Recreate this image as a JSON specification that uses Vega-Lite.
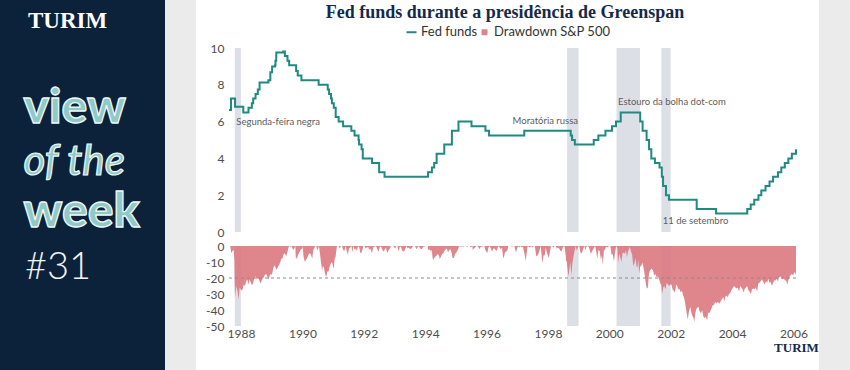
{
  "$schema": "https://vega.github.io/schema/vega-lite/v6.json",
  "padding": 0,
  "background": "#ffffff",
  "spacing": 0,
  "config": {
    "view": {"stroke": null},
    "font": "Lato",
    "concat": {"spacing": 0},
    "axis": {"labelFont": "Lato", "labelFontSize": 12, "labelColor": "#4d4d4d", "ticks": false, "domain": false, "grid": false, "labelOverlap": false}
  },
  "datasets": {
    "eventos": [
      {"evento": "Segunda-feira negra", "inicio": "1987-10-19", "fim": "1987-12-31", "nivel": 6.0},
      {"evento": "Moratória russa", "inicio": "1998-08-17", "fim": "1998-12-31", "nivel": 6.05},
      {"evento": "Estouro da bolha dot-com", "inicio": "2000-03-27", "fim": "2000-12-31", "nivel": 7.05},
      {"evento": "11 de setembro", "inicio": "2001-09-11", "fim": "2001-12-31", "nivel": 0.6}
    ],
    "fed": [
      {"dia": "1987-08-11", "taxa": 6.625}, {"dia": "1987-09-04", "taxa": 7.25}, {"dia": "1987-10-22", "taxa": 6.8125},
      {"dia": "1988-01-28", "taxa": 6.5}, {"dia": "1988-03-30", "taxa": 6.75}, {"dia": "1988-05-09", "taxa": 7.0},
      {"dia": "1988-05-25", "taxa": 7.25}, {"dia": "1988-06-22", "taxa": 7.5}, {"dia": "1988-07-19", "taxa": 7.75},
      {"dia": "1988-08-09", "taxa": 8.125}, {"dia": "1988-11-22", "taxa": 8.25}, {"dia": "1988-12-15", "taxa": 8.6875},
      {"dia": "1989-01-05", "taxa": 9.0}, {"dia": "1989-02-09", "taxa": 9.0625}, {"dia": "1989-02-14", "taxa": 9.3125},
      {"dia": "1989-02-23", "taxa": 9.5625}, {"dia": "1989-02-24", "taxa": 9.75}, {"dia": "1989-05-17", "taxa": 9.8125},
      {"dia": "1989-06-06", "taxa": 9.5625}, {"dia": "1989-07-07", "taxa": 9.3125}, {"dia": "1989-07-27", "taxa": 9.0625},
      {"dia": "1989-10-18", "taxa": 8.75}, {"dia": "1989-11-06", "taxa": 8.5}, {"dia": "1989-12-20", "taxa": 8.25},
      {"dia": "1990-07-13", "taxa": 8.0}, {"dia": "1990-10-29", "taxa": 7.75}, {"dia": "1990-11-14", "taxa": 7.5},
      {"dia": "1990-12-07", "taxa": 7.25}, {"dia": "1990-12-18", "taxa": 7.0}, {"dia": "1991-01-09", "taxa": 6.75},
      {"dia": "1991-02-01", "taxa": 6.25}, {"dia": "1991-03-08", "taxa": 6.0}, {"dia": "1991-04-30", "taxa": 5.75},
      {"dia": "1991-08-06", "taxa": 5.5}, {"dia": "1991-09-13", "taxa": 5.25}, {"dia": "1991-10-31", "taxa": 5.0},
      {"dia": "1991-11-06", "taxa": 4.75}, {"dia": "1991-12-06", "taxa": 4.5}, {"dia": "1991-12-20", "taxa": 4.0},
      {"dia": "1992-04-09", "taxa": 3.75}, {"dia": "1992-07-02", "taxa": 3.25}, {"dia": "1992-09-04", "taxa": 3.0},
      {"dia": "1994-02-04", "taxa": 3.25}, {"dia": "1994-03-22", "taxa": 3.5}, {"dia": "1994-04-18", "taxa": 3.75},
      {"dia": "1994-05-17", "taxa": 4.25}, {"dia": "1994-08-16", "taxa": 4.75}, {"dia": "1994-11-15", "taxa": 5.5},
      {"dia": "1995-02-01", "taxa": 6.0}, {"dia": "1995-07-06", "taxa": 5.75}, {"dia": "1995-12-19", "taxa": 5.5},
      {"dia": "1996-01-31", "taxa": 5.25}, {"dia": "1997-03-25", "taxa": 5.5}, {"dia": "1998-09-29", "taxa": 5.25},
      {"dia": "1998-10-15", "taxa": 5.0}, {"dia": "1998-11-17", "taxa": 4.75}, {"dia": "1999-06-30", "taxa": 5.0},
      {"dia": "1999-08-24", "taxa": 5.25}, {"dia": "1999-11-16", "taxa": 5.5}, {"dia": "2000-02-02", "taxa": 5.75},
      {"dia": "2000-03-21", "taxa": 6.0}, {"dia": "2000-05-16", "taxa": 6.5}, {"dia": "2001-01-03", "taxa": 6.0},
      {"dia": "2001-01-31", "taxa": 5.5}, {"dia": "2001-03-20", "taxa": 5.0}, {"dia": "2001-04-18", "taxa": 4.5},
      {"dia": "2001-05-15", "taxa": 4.0}, {"dia": "2001-06-27", "taxa": 3.75}, {"dia": "2001-08-21", "taxa": 3.5},
      {"dia": "2001-09-17", "taxa": 3.0}, {"dia": "2001-10-02", "taxa": 2.5}, {"dia": "2001-11-06", "taxa": 2.0},
      {"dia": "2001-12-11", "taxa": 1.75}, {"dia": "2002-11-06", "taxa": 1.25}, {"dia": "2003-06-25", "taxa": 1.0},
      {"dia": "2004-06-30", "taxa": 1.25}, {"dia": "2004-08-10", "taxa": 1.5}, {"dia": "2004-09-21", "taxa": 1.75},
      {"dia": "2004-11-10", "taxa": 2.0}, {"dia": "2004-12-14", "taxa": 2.25}, {"dia": "2005-02-02", "taxa": 2.5},
      {"dia": "2005-03-22", "taxa": 2.75}, {"dia": "2005-05-03", "taxa": 3.0}, {"dia": "2005-06-30", "taxa": 3.25},
      {"dia": "2005-08-09", "taxa": 3.5}, {"dia": "2005-09-20", "taxa": 3.75}, {"dia": "2005-11-01", "taxa": 4.0},
      {"dia": "2005-12-13", "taxa": 4.25}, {"dia": "2006-01-31", "taxa": 4.5}
    ],
    "dd": [
      {"dia": "1987-08-11", "queda": 0}, {"dia": "1987-08-25", "queda": 0}, {"dia": "1987-09-08", "queda": -4.5},
      {"dia": "1987-09-22", "queda": -3}, {"dia": "1987-10-05", "queda": -2.5}, {"dia": "1987-10-14", "queda": -9},
      {"dia": "1987-10-19", "queda": -33}, {"dia": "1987-10-21", "queda": -23}, {"dia": "1987-10-26", "queda": -32},
      {"dia": "1987-11-06", "queda": -25}, {"dia": "1987-11-20", "queda": -28}, {"dia": "1987-12-04", "queda": -33.5},
      {"dia": "1987-12-15", "queda": -26}, {"dia": "1987-12-29", "queda": -27},
      {"dia": "1988-01-08", "queda": -28}, {"dia": "1988-01-20", "queda": -27}, {"dia": "1988-02-03", "queda": -24},
      {"dia": "1988-02-17", "queda": -25}, {"dia": "1988-03-02", "queda": -22}, {"dia": "1988-03-16", "queda": -21},
      {"dia": "1988-03-30", "queda": -24}, {"dia": "1988-04-13", "queda": -21}, {"dia": "1988-04-27", "queda": -23},
      {"dia": "1988-05-11", "queda": -24.5}, {"dia": "1988-05-25", "queda": -23}, {"dia": "1988-06-08", "queda": -20},
      {"dia": "1988-06-22", "queda": -19}, {"dia": "1988-07-06", "queda": -21}, {"dia": "1988-07-20", "queda": -20},
      {"dia": "1988-08-03", "queda": -21}, {"dia": "1988-08-17", "queda": -23.5}, {"dia": "1988-08-31", "queda": -22},
      {"dia": "1988-09-14", "queda": -20.5}, {"dia": "1988-09-28", "queda": -19.5}, {"dia": "1988-10-12", "queda": -18},
      {"dia": "1988-10-26", "queda": -17.5}, {"dia": "1988-11-09", "queda": -19}, {"dia": "1988-11-23", "queda": -21},
      {"dia": "1988-12-07", "queda": -18.5}, {"dia": "1988-12-21", "queda": -17.5},
      {"dia": "1989-01-04", "queda": -18}, {"dia": "1989-01-18", "queda": -14}, {"dia": "1989-02-01", "queda": -12},
      {"dia": "1989-02-15", "queda": -13.5}, {"dia": "1989-03-01", "queda": -15}, {"dia": "1989-03-15", "queda": -13},
      {"dia": "1989-03-29", "queda": -12}, {"dia": "1989-04-12", "queda": -10}, {"dia": "1989-04-26", "queda": -8},
      {"dia": "1989-05-10", "queda": -7.5}, {"dia": "1989-05-24", "queda": -5}, {"dia": "1989-06-07", "queda": -4.5},
      {"dia": "1989-06-21", "queda": -6.5}, {"dia": "1989-07-05", "queda": -4}, {"dia": "1989-07-19", "queda": -1},
      {"dia": "1989-07-31", "queda": 0}, {"dia": "1989-08-15", "queda": -0.5}, {"dia": "1989-08-25", "queda": 0},
      {"dia": "1989-09-12", "queda": -2.5}, {"dia": "1989-09-26", "queda": -1.5}, {"dia": "1989-10-09", "queda": 0},
      {"dia": "1989-10-13", "queda": -7}, {"dia": "1989-10-27", "queda": -8}, {"dia": "1989-11-10", "queda": -5.5},
      {"dia": "1989-11-24", "queda": -4}, {"dia": "1989-12-08", "queda": -2.5}, {"dia": "1989-12-29", "queda": -1.5},
      {"dia": "1990-01-02", "queda": 0}, {"dia": "1990-01-15", "queda": -7}, {"dia": "1990-01-30", "queda": -10},
      {"dia": "1990-02-13", "queda": -8.5}, {"dia": "1990-02-27", "queda": -7.5}, {"dia": "1990-03-13", "queda": -5.5},
      {"dia": "1990-03-27", "queda": -4.5}, {"dia": "1990-04-10", "queda": -5}, {"dia": "1990-04-27", "queda": -8},
      {"dia": "1990-05-11", "queda": -2.5}, {"dia": "1990-05-25", "queda": -1}, {"dia": "1990-06-04", "queda": 0},
      {"dia": "1990-06-15", "queda": 0}, {"dia": "1990-06-27", "queda": -3}, {"dia": "1990-07-16", "queda": 0},
      {"dia": "1990-07-27", "queda": -4}, {"dia": "1990-08-07", "queda": -9}, {"dia": "1990-08-23", "queda": -15.5},
      {"dia": "1990-08-31", "queda": -12.5}, {"dia": "1990-09-14", "queda": -13.5}, {"dia": "1990-09-26", "queda": -17},
      {"dia": "1990-10-11", "queda": -19.5}, {"dia": "1990-10-24", "queda": -16}, {"dia": "1990-11-07", "queda": -16},
      {"dia": "1990-11-21", "queda": -13}, {"dia": "1990-12-05", "queda": -11}, {"dia": "1990-12-19", "queda": -10},
      {"dia": "1991-01-09", "queda": -14.5}, {"dia": "1991-01-18", "queda": -8.5}, {"dia": "1991-01-31", "queda": -6.5},
      {"dia": "1991-02-13", "queda": -1}, {"dia": "1991-02-20", "queda": 0}, {"dia": "1991-03-06", "queda": 0},
      {"dia": "1991-03-20", "queda": -1.5}, {"dia": "1991-04-03", "queda": 0}, {"dia": "1991-04-17", "queda": 0},
      {"dia": "1991-05-01", "queda": -2.5}, {"dia": "1991-05-15", "queda": -3}, {"dia": "1991-05-29", "queda": 0},
      {"dia": "1991-06-12", "queda": -3}, {"dia": "1991-06-25", "queda": -5.5}, {"dia": "1991-07-10", "queda": -1.5},
      {"dia": "1991-07-24", "queda": -1}, {"dia": "1991-08-06", "queda": 0}, {"dia": "1991-08-19", "queda": -4},
      {"dia": "1991-08-28", "queda": 0}, {"dia": "1991-09-11", "queda": -2}, {"dia": "1991-09-25", "queda": -1.5},
      {"dia": "1991-10-09", "queda": -3}, {"dia": "1991-10-23", "queda": -0.5}, {"dia": "1991-11-06", "queda": -0.5},
      {"dia": "1991-11-20", "queda": -4}, {"dia": "1991-12-02", "queda": -4.5}, {"dia": "1991-12-16", "queda": -2.5},
      {"dia": "1991-12-27", "queda": 0},
      {"dia": "1992-01-10", "queda": 0}, {"dia": "1992-01-24", "queda": -1.5}, {"dia": "1992-02-07", "queda": -1},
      {"dia": "1992-02-21", "queda": -0.5}, {"dia": "1992-03-06", "queda": -2.5}, {"dia": "1992-03-20", "queda": -1.5},
      {"dia": "1992-04-08", "queda": -4.5}, {"dia": "1992-04-22", "queda": -1}, {"dia": "1992-05-06", "queda": -0.5},
      {"dia": "1992-05-20", "queda": 0}, {"dia": "1992-06-03", "queda": -1}, {"dia": "1992-06-17", "queda": -3},
      {"dia": "1992-06-26", "queda": -3.5}, {"dia": "1992-07-10", "queda": -0.5}, {"dia": "1992-07-24", "queda": -0.5},
      {"dia": "1992-08-07", "queda": -2}, {"dia": "1992-08-21", "queda": -3.5}, {"dia": "1992-09-04", "queda": -2.5},
      {"dia": "1992-09-18", "queda": -1}, {"dia": "1992-10-09", "queda": -4.5}, {"dia": "1992-10-23", "queda": -2.5},
      {"dia": "1992-11-06", "queda": -1.5}, {"dia": "1992-11-20", "queda": 0}, {"dia": "1992-12-04", "queda": 0},
      {"dia": "1992-12-18", "queda": 0},
      {"dia": "1993-01-08", "queda": -1.5}, {"dia": "1993-01-22", "queda": 0}, {"dia": "1993-02-05", "queda": 0},
      {"dia": "1993-02-18", "queda": -3.5}, {"dia": "1993-03-05", "queda": -0.5}, {"dia": "1993-03-19", "queda": -0.5},
      {"dia": "1993-04-02", "queda": -3}, {"dia": "1993-04-26", "queda": -3.5}, {"dia": "1993-05-10", "queda": -1.5},
      {"dia": "1993-05-24", "queda": 0}, {"dia": "1993-06-07", "queda": -1.5}, {"dia": "1993-06-21", "queda": -1},
      {"dia": "1993-07-06", "queda": -2}, {"dia": "1993-07-20", "queda": -1.5}, {"dia": "1993-08-03", "queda": -0.5},
      {"dia": "1993-08-17", "queda": 0}, {"dia": "1993-08-31", "queda": 0}, {"dia": "1993-09-21", "queda": -2},
      {"dia": "1993-10-05", "queda": -0.5}, {"dia": "1993-10-15", "queda": 0}, {"dia": "1993-11-04", "queda": -1.5},
      {"dia": "1993-11-23", "queda": -2}, {"dia": "1993-12-07", "queda": -0.5}, {"dia": "1993-12-21", "queda": -0.5},
      {"dia": "1994-01-05", "queda": 0}, {"dia": "1994-01-31", "queda": 0}, {"dia": "1994-02-04", "queda": -2.5},
      {"dia": "1994-02-18", "queda": -2}, {"dia": "1994-03-04", "queda": -3}, {"dia": "1994-03-18", "queda": -2.5},
      {"dia": "1994-03-31", "queda": -7.5}, {"dia": "1994-04-04", "queda": -8.9}, {"dia": "1994-04-18", "queda": -7.5},
      {"dia": "1994-05-02", "queda": -6.5}, {"dia": "1994-05-16", "queda": -6}, {"dia": "1994-05-31", "queda": -5},
      {"dia": "1994-06-14", "queda": -6}, {"dia": "1994-06-24", "queda": -8.3}, {"dia": "1994-07-08", "queda": -6.5},
      {"dia": "1994-07-22", "queda": -5}, {"dia": "1994-08-05", "queda": -4.5}, {"dia": "1994-08-19", "queda": -3},
      {"dia": "1994-09-02", "queda": -2}, {"dia": "1994-09-16", "queda": -1.5}, {"dia": "1994-09-30", "queda": -4},
      {"dia": "1994-10-14", "queda": -2.5}, {"dia": "1994-10-28", "queda": -2}, {"dia": "1994-11-11", "queda": -4},
      {"dia": "1994-11-23", "queda": -7.5}, {"dia": "1994-12-09", "queda": -7.5}, {"dia": "1994-12-23", "queda": -5},
      {"dia": "1995-01-06", "queda": -4}, {"dia": "1995-01-20", "queda": -3}, {"dia": "1995-02-03", "queda": -1},
      {"dia": "1995-02-17", "queda": 0}, {"dia": "1995-03-03", "queda": -0.5}, {"dia": "1995-03-17", "queda": 0},
      {"dia": "1995-04-04", "queda": -0.5}, {"dia": "1995-04-18", "queda": 0}, {"dia": "1995-05-02", "queda": 0},
      {"dia": "1995-05-16", "queda": -0.5}, {"dia": "1995-06-01", "queda": 0}, {"dia": "1995-06-15", "queda": 0},
      {"dia": "1995-06-28", "queda": -1}, {"dia": "1995-07-17", "queda": 0}, {"dia": "1995-07-21", "queda": -2.5},
      {"dia": "1995-08-04", "queda": -1.5}, {"dia": "1995-08-18", "queda": -1}, {"dia": "1995-09-01", "queda": 0},
      {"dia": "1995-09-15", "queda": 0}, {"dia": "1995-09-29", "queda": -1}, {"dia": "1995-10-10", "queda": -2},
      {"dia": "1995-10-24", "queda": -0.5}, {"dia": "1995-11-07", "queda": -0.5}, {"dia": "1995-11-21", "queda": 0},
      {"dia": "1995-12-05", "queda": 0}, {"dia": "1995-12-18", "queda": -2.5},
      {"dia": "1996-01-10", "queda": -4.5}, {"dia": "1996-01-24", "queda": -1}, {"dia": "1996-02-07", "queda": 0},
      {"dia": "1996-02-21", "queda": -1.5}, {"dia": "1996-03-08", "queda": -3.5}, {"dia": "1996-03-22", "queda": -1.5},
      {"dia": "1996-04-04", "queda": -1.5}, {"dia": "1996-04-18", "queda": -2.5}, {"dia": "1996-05-02", "queda": -3},
      {"dia": "1996-05-20", "queda": 0}, {"dia": "1996-06-05", "queda": -1}, {"dia": "1996-06-19", "queda": -2},
      {"dia": "1996-07-03", "queda": -1}, {"dia": "1996-07-15", "queda": -6.5}, {"dia": "1996-07-24", "queda": -7.6},
      {"dia": "1996-08-07", "queda": -4}, {"dia": "1996-08-21", "queda": -3.5}, {"dia": "1996-09-04", "queda": -3},
      {"dia": "1996-09-18", "queda": 0}, {"dia": "1996-10-02", "queda": 0}, {"dia": "1996-10-16", "queda": 0},
      {"dia": "1996-10-30", "queda": -0.5}, {"dia": "1996-11-13", "queda": 0}, {"dia": "1996-11-27", "queda": 0},
      {"dia": "1996-12-16", "queda": -4}, {"dia": "1996-12-30", "queda": -1.5},
      {"dia": "1997-01-13", "queda": 0}, {"dia": "1997-01-27", "queda": -1}, {"dia": "1997-02-10", "queda": 0},
      {"dia": "1997-02-24", "queda": -1}, {"dia": "1997-03-10", "queda": -0.5}, {"dia": "1997-03-31", "queda": -6},
      {"dia": "1997-04-11", "queda": -9.6}, {"dia": "1997-04-22", "queda": -4.5}, {"dia": "1997-05-05", "queda": 0},
      {"dia": "1997-05-19", "queda": -0.5}, {"dia": "1997-06-02", "queda": -1}, {"dia": "1997-06-16", "queda": 0},
      {"dia": "1997-06-30", "queda": -1}, {"dia": "1997-07-14", "queda": 0}, {"dia": "1997-07-28", "queda": 0},
      {"dia": "1997-08-15", "queda": -6.5}, {"dia": "1997-08-29", "queda": -6}, {"dia": "1997-09-12", "queda": -4.5},
      {"dia": "1997-09-26", "queda": -2}, {"dia": "1997-10-07", "queda": 0}, {"dia": "1997-10-27", "queda": -10.8},
      {"dia": "1997-11-10", "queda": -6}, {"dia": "1997-11-24", "queda": -6}, {"dia": "1997-12-05", "queda": -1},
      {"dia": "1997-12-19", "queda": -4},
      {"dia": "1998-01-09", "queda": -7.5}, {"dia": "1998-01-23", "queda": -4}, {"dia": "1998-02-06", "queda": 0},
      {"dia": "1998-02-20", "queda": 0}, {"dia": "1998-03-06", "queda": -1}, {"dia": "1998-03-20", "queda": 0},
      {"dia": "1998-04-03", "queda": 0}, {"dia": "1998-04-17", "queda": -1.5}, {"dia": "1998-05-01", "queda": -1},
      {"dia": "1998-05-15", "queda": -1.5}, {"dia": "1998-05-29", "queda": -3}, {"dia": "1998-06-12", "queda": -3.5},
      {"dia": "1998-06-26", "queda": -1}, {"dia": "1998-07-17", "queda": 0}, {"dia": "1998-07-31", "queda": -6},
      {"dia": "1998-08-04", "queda": -9}, {"dia": "1998-08-14", "queda": -10}, {"dia": "1998-08-31", "queda": -19},
      {"dia": "1998-09-10", "queda": -16}, {"dia": "1998-09-23", "queda": -10}, {"dia": "1998-10-08", "queda": -18.5},
      {"dia": "1998-10-16", "queda": -12}, {"dia": "1998-10-30", "queda": -7}, {"dia": "1998-11-13", "queda": -3},
      {"dia": "1998-11-27", "queda": 0}, {"dia": "1998-12-11", "queda": -3}, {"dia": "1998-12-29", "queda": 0},
      {"dia": "1999-01-08", "queda": 0}, {"dia": "1999-01-22", "queda": -4}, {"dia": "1999-02-09", "queda": -4.5},
      {"dia": "1999-02-23", "queda": -2}, {"dia": "1999-03-10", "queda": 0}, {"dia": "1999-03-24", "queda": -2.5},
      {"dia": "1999-04-07", "queda": 0}, {"dia": "1999-04-21", "queda": 0}, {"dia": "1999-05-05", "queda": -1},
      {"dia": "1999-05-26", "queda": -5}, {"dia": "1999-06-09", "queda": -3.5}, {"dia": "1999-06-23", "queda": -2},
      {"dia": "1999-07-16", "queda": 0}, {"dia": "1999-07-30", "queda": -3.5}, {"dia": "1999-08-10", "queda": -8},
      {"dia": "1999-08-25", "queda": -2.5}, {"dia": "1999-09-08", "queda": -3}, {"dia": "1999-09-23", "queda": -8.5},
      {"dia": "1999-10-06", "queda": -6}, {"dia": "1999-10-15", "queda": -12}, {"dia": "1999-10-29", "queda": -3},
      {"dia": "1999-11-12", "queda": -2}, {"dia": "1999-11-24", "queda": -0.5}, {"dia": "1999-12-08", "queda": -1},
      {"dia": "1999-12-31", "queda": 0},
      {"dia": "2000-01-14", "queda": 0}, {"dia": "2000-01-28", "queda": -5.5}, {"dia": "2000-02-11", "queda": -5},
      {"dia": "2000-02-25", "queda": -9.5}, {"dia": "2000-03-10", "queda": -4}, {"dia": "2000-03-24", "queda": 0},
      {"dia": "2000-04-07", "queda": -1.5}, {"dia": "2000-04-14", "queda": -11}, {"dia": "2000-04-28", "queda": -5},
      {"dia": "2000-05-12", "queda": -7}, {"dia": "2000-05-24", "queda": -10}, {"dia": "2000-06-07", "queda": -4.5},
      {"dia": "2000-06-21", "queda": -4}, {"dia": "2000-07-05", "queda": -5}, {"dia": "2000-07-17", "queda": -2.5},
      {"dia": "2000-07-28", "queda": -7}, {"dia": "2000-08-11", "queda": -3.5}, {"dia": "2000-08-25", "queda": -1.5},
      {"dia": "2000-09-01", "queda": -0.5}, {"dia": "2000-09-15", "queda": -3.5}, {"dia": "2000-09-29", "queda": -5.5},
      {"dia": "2000-10-12", "queda": -12.5}, {"dia": "2000-10-26", "queda": -11}, {"dia": "2000-11-08", "queda": -7.5},
      {"dia": "2000-11-21", "queda": -13}, {"dia": "2000-11-30", "queda": -13.5}, {"dia": "2000-12-12", "queda": -8.5},
      {"dia": "2000-12-20", "queda": -17},
      {"dia": "2001-01-03", "queda": -13}, {"dia": "2001-01-17", "queda": -12}, {"dia": "2001-01-31", "queda": -10.5},
      {"dia": "2001-02-14", "queda": -14}, {"dia": "2001-02-28", "queda": -19}, {"dia": "2001-03-12", "queda": -24},
      {"dia": "2001-03-22", "queda": -26.5}, {"dia": "2001-04-04", "queda": -26}, {"dia": "2001-04-18", "queda": -17},
      {"dia": "2001-05-02", "queda": -15}, {"dia": "2001-05-21", "queda": -14}, {"dia": "2001-06-05", "queda": -15.5},
      {"dia": "2001-06-19", "queda": -18.5}, {"dia": "2001-07-03", "queda": -17.5}, {"dia": "2001-07-17", "queda": -19.5},
      {"dia": "2001-07-31", "queda": -19}, {"dia": "2001-08-14", "queda": -20.5}, {"dia": "2001-08-28", "queda": -23},
      {"dia": "2001-09-10", "queda": -24.5}, {"dia": "2001-09-21", "queda": -30}, {"dia": "2001-10-03", "queda": -26},
      {"dia": "2001-10-17", "queda": -25}, {"dia": "2001-10-31", "queda": -27}, {"dia": "2001-11-14", "queda": -23},
      {"dia": "2001-11-28", "queda": -24}, {"dia": "2001-12-12", "queda": -25}, {"dia": "2001-12-26", "queda": -24},
      {"dia": "2002-01-09", "queda": -24}, {"dia": "2002-01-23", "queda": -27}, {"dia": "2002-02-06", "queda": -28},
      {"dia": "2002-02-20", "queda": -29}, {"dia": "2002-03-06", "queda": -24}, {"dia": "2002-03-20", "queda": -25},
      {"dia": "2002-04-03", "queda": -27}, {"dia": "2002-04-17", "queda": -27}, {"dia": "2002-05-01", "queda": -29},
      {"dia": "2002-05-15", "queda": -28}, {"dia": "2002-05-29", "queda": -31}, {"dia": "2002-06-12", "queda": -33},
      {"dia": "2002-06-26", "queda": -37}, {"dia": "2002-07-10", "queda": -42}, {"dia": "2002-07-23", "queda": -46},
      {"dia": "2002-08-06", "queda": -41}, {"dia": "2002-08-22", "queda": -38}, {"dia": "2002-09-05", "queda": -42},
      {"dia": "2002-09-19", "queda": -44}, {"dia": "2002-09-30", "queda": -45}, {"dia": "2002-10-09", "queda": -47.5},
      {"dia": "2002-10-21", "queda": -42}, {"dia": "2002-11-04", "queda": -39}, {"dia": "2002-11-27", "queda": -38},
      {"dia": "2002-12-11", "queda": -41}, {"dia": "2002-12-27", "queda": -42},
      {"dia": "2003-01-10", "queda": -40}, {"dia": "2003-01-24", "queda": -44}, {"dia": "2003-02-07", "queda": -45},
      {"dia": "2003-02-21", "queda": -44}, {"dia": "2003-03-11", "queda": -46.5}, {"dia": "2003-03-21", "queda": -41.5},
      {"dia": "2003-04-04", "queda": -42}, {"dia": "2003-04-17", "queda": -41}, {"dia": "2003-05-01", "queda": -39},
      {"dia": "2003-05-15", "queda": -37}, {"dia": "2003-05-30", "queda": -37}, {"dia": "2003-06-13", "queda": -35},
      {"dia": "2003-06-27", "queda": -36}, {"dia": "2003-07-11", "queda": -35}, {"dia": "2003-07-25", "queda": -35.5},
      {"dia": "2003-08-08", "queda": -36}, {"dia": "2003-08-22", "queda": -34}, {"dia": "2003-09-05", "queda": -33},
      {"dia": "2003-09-19", "queda": -32}, {"dia": "2003-09-30", "queda": -34.5}, {"dia": "2003-10-14", "queda": -31.5},
      {"dia": "2003-10-28", "queda": -31}, {"dia": "2003-11-11", "queda": -32}, {"dia": "2003-11-25", "queda": -30},
      {"dia": "2003-12-09", "queda": -29.5}, {"dia": "2003-12-31", "queda": -27},
      {"dia": "2004-01-14", "queda": -26}, {"dia": "2004-01-26", "queda": -25}, {"dia": "2004-02-09", "queda": -26},
      {"dia": "2004-02-23", "queda": -26.5}, {"dia": "2004-03-08", "queda": -26}, {"dia": "2004-03-24", "queda": -28.5},
      {"dia": "2004-04-07", "queda": -25}, {"dia": "2004-04-21", "queda": -26}, {"dia": "2004-05-05", "queda": -27},
      {"dia": "2004-05-17", "queda": -29}, {"dia": "2004-06-01", "queda": -26.5}, {"dia": "2004-06-15", "queda": -26},
      {"dia": "2004-06-29", "queda": -25}, {"dia": "2004-07-13", "queda": -27.5}, {"dia": "2004-07-27", "queda": -28.5},
      {"dia": "2004-08-12", "queda": -30}, {"dia": "2004-08-26", "queda": -27}, {"dia": "2004-09-09", "queda": -26.5},
      {"dia": "2004-09-23", "queda": -27}, {"dia": "2004-10-07", "queda": -26}, {"dia": "2004-10-25", "queda": -28.5},
      {"dia": "2004-11-08", "queda": -23.5}, {"dia": "2004-11-22", "queda": -23}, {"dia": "2004-12-06", "queda": -22},
      {"dia": "2004-12-20", "queda": -21},
      {"dia": "2005-01-03", "queda": -22}, {"dia": "2005-01-24", "queda": -24}, {"dia": "2005-02-07", "queda": -22},
      {"dia": "2005-02-22", "queda": -23}, {"dia": "2005-03-07", "queda": -20.5}, {"dia": "2005-03-22", "queda": -23},
      {"dia": "2005-04-05", "queda": -22.5}, {"dia": "2005-04-20", "queda": -25}, {"dia": "2005-05-04", "queda": -23},
      {"dia": "2005-05-18", "queda": -21.5}, {"dia": "2005-06-01", "queda": -21.5}, {"dia": "2005-06-15", "queda": -20.5},
      {"dia": "2005-06-29", "queda": -22}, {"dia": "2005-07-13", "queda": -19.5}, {"dia": "2005-07-27", "queda": -19},
      {"dia": "2005-08-10", "queda": -19.5}, {"dia": "2005-08-24", "queda": -21}, {"dia": "2005-09-07", "queda": -20},
      {"dia": "2005-09-21", "queda": -21.5}, {"dia": "2005-10-05", "queda": -21.5}, {"dia": "2005-10-20", "queda": -24},
      {"dia": "2005-11-03", "queda": -21}, {"dia": "2005-11-17", "queda": -19}, {"dia": "2005-12-01", "queda": -18},
      {"dia": "2005-12-15", "queda": -17.5}, {"dia": "2005-12-29", "queda": -18.5},
      {"dia": "2006-01-11", "queda": -16}, {"dia": "2006-01-20", "queda": -18}, {"dia": "2006-01-31", "queda": -16.5}
    ]
  },
  "hconcat": [
    {
      "width": 165,
      "height": 370,
      "view": {"fill": "#0c223a", "stroke": null},
      "encoding": {
        "y": {"field": "linha", "type": "quantitative", "axis": null, "scale": {"domain": [-0.365, 6.75], "reverse": true, "nice": false, "zero": false}},
        "text": {"field": "texto"}
      },
      "layer": [
        {"data": {"values": [{"linha": 0, "texto": "TURIM"}]},
         "mark": {"type": "text", "font": "Liberation Serif", "fontWeight": "bold", "fontSize": 23, "color": "#ffffff", "align": "left", "baseline": "middle", "dx": -54.5, "dy": 2}},
        {"data": {"values": [{"linha": 2, "texto": "view"}, {"linha": 4, "texto": "week"}]},
         "mark": {"type": "text", "font": "Lato", "fontWeight": 900, "fontSize": 48, "fill": "#8fc9c8", "stroke": "#eef8f7", "strokeWidth": 1.3, "align": "left", "baseline": "alphabetic", "dx": -59}},
        {"data": {"values": [{"linha": 3, "texto": "of the"}]},
         "mark": {"type": "text", "font": "Lato", "fontStyle": "italic", "fontWeight": 500, "fontSize": 42, "fill": "#8fc9c8", "stroke": "#eef8f7", "strokeWidth": 1.2, "align": "left", "baseline": "alphabetic", "dx": -59}},
        {"data": {"values": [{"linha": 5, "texto": "#31"}]},
         "mark": {"type": "text", "font": "Lato", "fontWeight": 300, "fontSize": 38, "color": "#f2f4f6", "align": "left", "baseline": "alphabetic", "dx": -57.5}}
      ]
    },
    {
      "width": 31,
      "height": 370,
      "view": {"fill": "#ebebeb", "stroke": null},
      "data": {"values": []},
      "mark": "point"
    },
    {
      "spacing": 2,
      "resolve": {"scale": {"x": "shared", "y": "independent", "color": "independent"}},
      "vconcat": [
        {
          "width": 567,
          "height": 39,
          "title": {"text": "Fed funds durante a presidência de Greenspan", "font": "Liberation Serif", "fontSize": 18, "fontWeight": "bold", "color": "#15294a", "anchor": "middle", "frame": "group", "baseline": "alphabetic", "offset": -36, "dx": -7.5},
          "data": {"values": [{"serie": "Fed funds"}, {"serie": "Drawdown S&P 500"}]},
          "mark": {"type": "point", "filled": true, "opacity": 0},
          "encoding": {
            "color": {
              "field": "serie", "type": "nominal",
              "scale": {"domain": ["Fed funds", "Drawdown S&P 500"], "range": ["#1f8a82", "#df848b"]},
              "legend": {
                "title": null, "orient": "none", "legendX": 176, "legendY": 25.5, "direction": "horizontal",
                "labelFont": "Lato", "labelFontSize": 13, "labelColor": "#333333",
                "symbolSize": 100, "symbolOpacity": 1, "symbolStrokeWidth": 0,
                "labelOffset": 3, "columnPadding": 0, "padding": 0,
                "encode": {"symbols": {"update": {
                  "shape": {"signal": "datum.value === 'Fed funds' ? 'M-1,-0.2H1V0.2H-1Z' : 'M-0.6,-0.6H0.6V0.6H-0.6Z'"},
                  "opacity": {"value": 1}
                }}}
              }
            }
          }
        },
        {
          "width": 567,
          "height": 184,
          "layer": [
            {
              "data": {"name": "eventos"},
              "mark": {"type": "rect", "color": "#dcdfe6"},
              "encoding": {
                "x": {"field": "inicio", "type": "temporal", "axis": null, "scale": {"type": "utc", "nice": false, "domain": [{"year": 1987, "month": 8, "date": 11, "utc": true}, {"year": 2006, "month": 1, "date": 31, "utc": true}]}},
                "x2": {"field": "fim"}
              }
            },
            {
              "data": {"name": "fed"},
              "mark": {"type": "line", "interpolate": "step-after", "color": "#1f8a82", "strokeWidth": 2},
              "encoding": {
                "x": {"field": "dia", "type": "temporal", "axis": null},
                "y": {"field": "taxa", "type": "quantitative", "scale": {"domain": [0, 10], "nice": false},
                      "axis": {"title": null, "values": [0, 2, 4, 6, 8, 10], "tickCount": 12, "minExtent": 33, "labelPadding": 5, "labelOverlap": false}}
              }
            },
            {
              "data": {"name": "eventos"},
              "transform": [{"filter": "datum.evento !== 'Moratória russa'"}],
              "mark": {"type": "text", "align": "left", "baseline": "middle", "dx": 1.5, "font": "Lato", "fontSize": 9.5, "color": "#5c5c5c"},
              "encoding": {
                "x": {"field": "inicio", "type": "temporal", "axis": null},
                "y": {"field": "nivel", "type": "quantitative", "title": null},
                "text": {"field": "evento"}
              }
            },
            {
              "data": {"name": "eventos"},
              "transform": [{"filter": "datum.evento === 'Moratória russa'"}],
              "mark": {"type": "text", "align": "right", "baseline": "middle", "dx": -0.5, "font": "Lato", "fontSize": 9.5, "color": "#5c5c5c"},
              "encoding": {
                "x": {"field": "fim", "type": "temporal", "axis": null},
                "y": {"field": "nivel", "type": "quantitative", "title": null},
                "text": {"field": "evento"}
              }
            }
          ]
        },
        {
          "width": 567,
          "height": 80,
          "layer": [
            {
              "data": {"name": "eventos"},
              "mark": {"type": "rect", "color": "#dcdfe6"},
              "encoding": {
                "x": {"field": "inicio", "type": "temporal",
                      "axis": {"format": "%Y", "tickCount": {"interval": "year", "step": 2}, "labelPadding": 2, "labelFlush": false,
                               "title": "TURIM", "titleFont": "Liberation Serif", "titleFontWeight": "bold", "titleFontSize": 13, "titleColor": "#15294a",
                               "titleAnchor": "end", "titleAlign": "center", "titlePadding": 2}},
                "x2": {"field": "fim"}
              }
            },
            {
              "data": {"name": "dd"},
              "mark": {"type": "area", "color": "#dc7880", "opacity": 0.9},
              "encoding": {
                "x": {"field": "dia", "type": "temporal",
                      "axis": {"format": "%Y", "tickCount": {"interval": "year", "step": 2}, "labelPadding": 2, "labelFlush": false,
                               "title": "TURIM", "titleFont": "Liberation Serif", "titleFontWeight": "bold", "titleFontSize": 13, "titleColor": "#15294a",
                               "titleAnchor": "end", "titleAlign": "center", "titlePadding": 2}},
                "y": {"field": "queda", "type": "quantitative", "scale": {"domain": [-50, 0], "nice": false},
                      "axis": {"title": null, "values": [0, -10, -20, -30, -40, -50], "tickCount": 12, "minExtent": 33, "labelPadding": 5, "labelOverlap": false, "labelExpr": "'' + datum.value"}}
              }
            },
            {
              "data": {"values": [{}]},
              "mark": {"type": "rule", "color": "#8a8a8a", "strokeDash": [3, 3], "strokeWidth": 1},
              "encoding": {"y": {"datum": -20}}
            }
          ]
        }
      ]
    },
    {
      "width": 32,
      "height": 370,
      "view": {"fill": "#ebebeb", "stroke": null},
      "data": {"values": []},
      "mark": "point"
    }
  ]
}
